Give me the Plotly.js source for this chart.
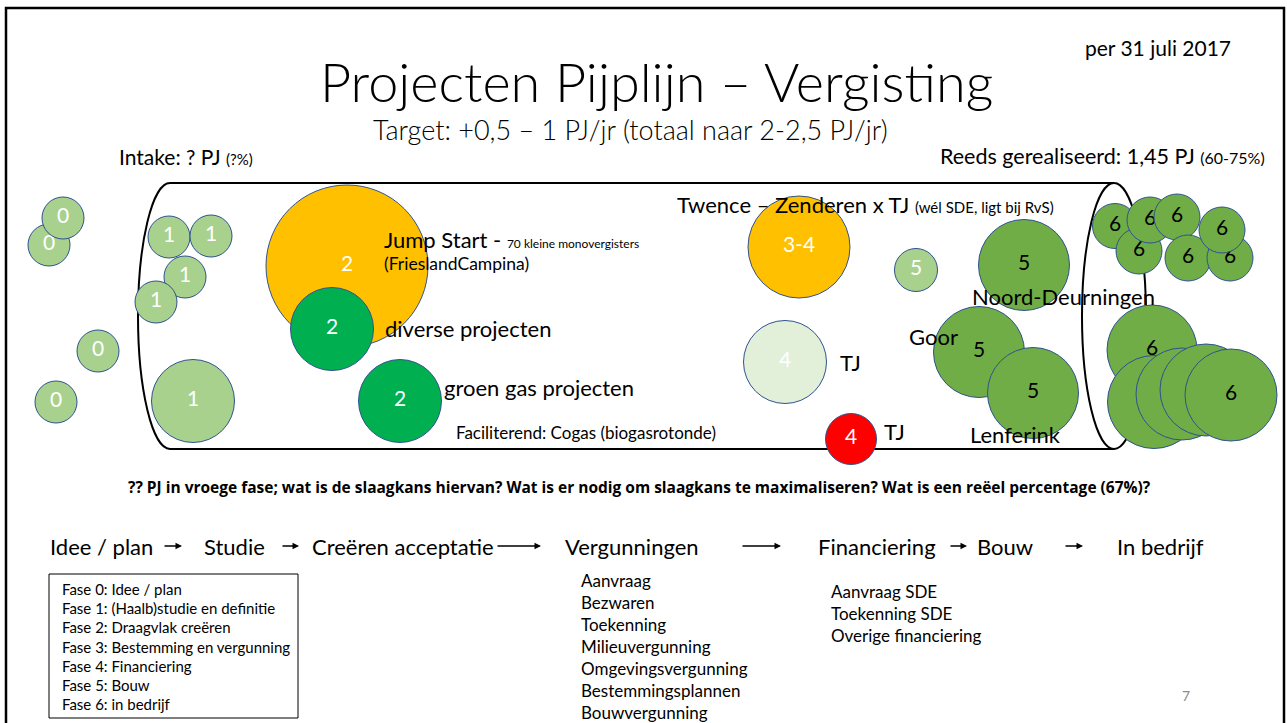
<!DOCTYPE html>
<html>
<head>
<meta charset="utf-8">
<script src="https://cdn.plot.ly/plotly-3.0.1.min.js"></script>
<style>html,body{margin:0;padding:0;background:#fff;}#chart{width:1287px;height:723px;}</style>
</head>
<body>
<div id="chart"></div>
<script>
// Project bubbles: position on the slide canvas, bubble diameter, phase label, colour group
const projectX     = [49, 63, 169, 211, 185, 156, 98, 56, 193, 347, 332, 400, 799, 916, 785, 851, 1024, 979, 1033, 1115, 1139, 1150, 1177, 1188, 1230, 1222, 1152, 1154, 1182, 1206, 1231];
const projectY     = [245, 218, 237, 236, 277, 302, 351, 402, 401, 266, 329, 401, 247, 270, 362, 439, 265, 352, 393, 226, 251, 220, 217, 258, 258, 230, 350, 402, 394, 390, 395];
const projectSize  = [42, 42, 42, 42, 42, 42, 42, 42, 83, 162, 83, 83, 102, 43, 83, 51, 91, 91, 91, 45, 46, 46, 46, 46, 46, 46, 90, 93, 92, 92, 92];
const projectPhase = ['0','0','1','1','1','1','0','0','1','2','2','2','3-4','5','4','4','5','5','5','6','6','6','6','6','6','6','6','','','','6'];
const projectGroup = ['idee','idee','idee','idee','idee','idee','idee','idee','idee','oranje','groen','groen','oranje','idee','licht','rood','donker','donker','donker','donker','donker','donker','donker','donker','donker','donker','donker','donker','donker','donker','donker'];

const groupColor = {idee:'#A9D18E', oranje:'#FFC000', groen:'#00B050', licht:'#E2F0D9', rood:'#FF0000', donker:'#70AD47'};
const groupText  = {idee:'#FFFFFF', oranje:'#FFFFFF', groen:'#FFFFFF', licht:'#FFFFFF', rood:'#FFFFFF', donker:'#000000'};

// Process steps
const stepLabels = ['Idee / plan', 'Studie', 'Creëren acceptatie', 'Vergunningen', 'Financiering', 'Bouw', 'In bedrijf'];
const stepX      = [48, 202, 310, 563, 816, 975, 1115];
const arrowFrom  = [163, 281, 496, 741, 949, 1064];
const arrowTo    = [182, 299, 541, 781, 967, 1083];

const faseLabels = ['Fase 0: Idee / plan', 'Fase 1: (Haalb)studie en definitie', 'Fase 2: Draagvlak creëren', 'Fase 3: Bestemming en vergunning', 'Fase 4: Financiering', 'Fase 5: Bouw', 'Fase 6: in bedrijf'];
const vergunningItems = ['Aanvraag', 'Bezwaren', 'Toekenning', 'Milieuvergunning', 'Omgevingsvergunning', 'Bestemmingsplannen', 'Bouwvergunning'];
const financieringItems = ['Aanvraag SDE', 'Toekenning SDE', 'Overige financiering'];

const FONT = 'Lato, "Open Sans", sans-serif';

const traces = projectX.map((x, i) => ({
  type: 'scatter',
  mode: 'markers+text',
  x: [x], y: [projectY[i]],
  text: [projectPhase[i]],
  textposition: 'middle center',
  textfont: {family: FONT, size: 21, color: groupText[projectGroup[i]]},
  marker: {size: projectSize[i], color: groupColor[projectGroup[i]], line: {color: '#2F528F', width: 1}, opacity: 1},
  hoverinfo: 'skip',
  showlegend: false,
  cliponaxis: false
}));

const ann = [];
function txt(x, y, text, size, opts) {
  ann.push(Object.assign({x: x, y: y, xref: 'x', yref: 'y', text: text, showarrow: false,
    xanchor: 'left', yanchor: 'middle', font: {family: FONT, size: size, color: '#000'}}, opts || {}));
}
txt(656, 81, 'Projecten Pijplijn – Vergisting', 54, {xanchor: 'center', font: {family: FONT, size: 54, color: '#000', weight: 300}});
txt(630, 129, 'Target: +0,5 – 1 PJ/jr (totaal naar 2-2,5 PJ/jr)', 27, {xanchor: 'center', font: {family: FONT, size: 27, color: '#000', weight: 300}});
txt(1158, 47, 'per 31 juli 2017', 21, {xanchor: 'center'});
txt(117, 156, 'Intake: ? PJ <span style="font-size:15px">(?%)</span>', 21);
txt(938, 156, 'Reeds gerealiseerd: 1,45 PJ <span style="font-size:16px">(60-75%)</span>', 21.5);
txt(382, 239, 'Jump Start - <span style="font-size:12px">70 kleine monovergisters</span>', 22);
txt(382, 263, '(FrieslandCampina)', 17.5);
txt(383, 328, 'diverse projecten', 22);
txt(442, 387, 'groen gas projecten', 22);
txt(454, 432, 'Faciliterend: Cogas (biogasrotonde)', 17);
txt(675, 204, 'Twence – Zenderen x TJ <span style="font-size:15px">(wél SDE, ligt bij RvS)</span>', 22);
txt(838, 362, 'TJ', 22);
txt(882, 431, 'TJ', 22);
txt(907, 336, 'Goor', 22);
txt(970, 296, 'Noord-Deurningen', 22);
txt(968, 434, 'Lenferink', 22);
txt(639, 487, '<b>?? PJ in vroege fase; wat is de slaagkans hiervan? Wat is er nodig om slaagkans te maximaliseren? Wat is een reëel percentage (67%)?</b>', 15.5,
    {xanchor: 'center', font: {family: '"Open Sans", sans-serif', size: 15.5, color: '#000'}});
stepLabels.forEach((s, i) => txt(stepX[i], 546, s, 22));
arrowFrom.forEach((a, i) => ann.push({x: arrowTo[i], y: 546, ax: a, ay: 546, xref: 'x', yref: 'y', axref: 'x', ayref: 'y',
  text: '', showarrow: true, arrowhead: 2, arrowsize: 1, arrowwidth: 1.3, arrowcolor: '#000'}));
faseLabels.forEach((s, i) => txt(60, 589 + i * 19.2, s, 15));
vergunningItems.forEach((s, i) => txt(579, 580 + i * 22, s, 17));
financieringItems.forEach((s, i) => txt(829, 591 + i * 22.4, s, 17));
txt(1186, 695, '7', 14, {xanchor: 'center', font: {family: FONT, size: 14, color: '#8C8C8C'}});

// cylinder outline
const cy = 316, ry = 133, k = 0.5523;
const lx = 170, rxL = 32;
const leftArc = `M ${lx},${cy - ry} C ${lx - k * rxL},${cy - ry} ${lx - rxL},${cy - k * ry} ${lx - rxL},${cy} C ${lx - rxL},${cy + k * ry} ${lx - k * rxL},${cy + ry} ${lx},${cy + ry}`;
const shapes = [
  {type: 'rect', xref: 'x', yref: 'y', x0: 6, x1: 1284, y0: 8, y1: 740, line: {color: '#000', width: 2.5}, layer: 'below'},
  {type: 'path', xref: 'x', yref: 'y', path: leftArc, line: {color: '#000', width: 2}, layer: 'below'},
  {type: 'line', xref: 'x', yref: 'y', x0: lx, x1: 1114, y0: cy - ry, y1: cy - ry, line: {color: '#000', width: 2}, layer: 'below'},
  {type: 'line', xref: 'x', yref: 'y', x0: lx, x1: 1114, y0: cy + ry, y1: cy + ry, line: {color: '#000', width: 2}, layer: 'below'},
  {type: 'circle', xref: 'x', yref: 'y', x0: 1082, x1: 1146, y0: cy - ry, y1: cy + ry, line: {color: '#000', width: 2}, layer: 'below'},
  {type: 'rect', xref: 'x', yref: 'y', x0: 49, x1: 298, y0: 574, y1: 718, line: {color: '#000', width: 1}, layer: 'below'}
];

const layout = {
  width: 1287, height: 723,
  margin: {l: 0, r: 0, t: 0, b: 0},
  paper_bgcolor: '#fff', plot_bgcolor: '#fff',
  xaxis: {range: [0, 1287], visible: false, fixedrange: true},
  yaxis: {range: [723, 0], visible: false, fixedrange: true},
  showlegend: false,
  annotations: ann,
  shapes: shapes
};
Plotly.newPlot('chart', traces, layout, {staticPlot: true, displayModeBar: false});
</script>
</body>
</html>
